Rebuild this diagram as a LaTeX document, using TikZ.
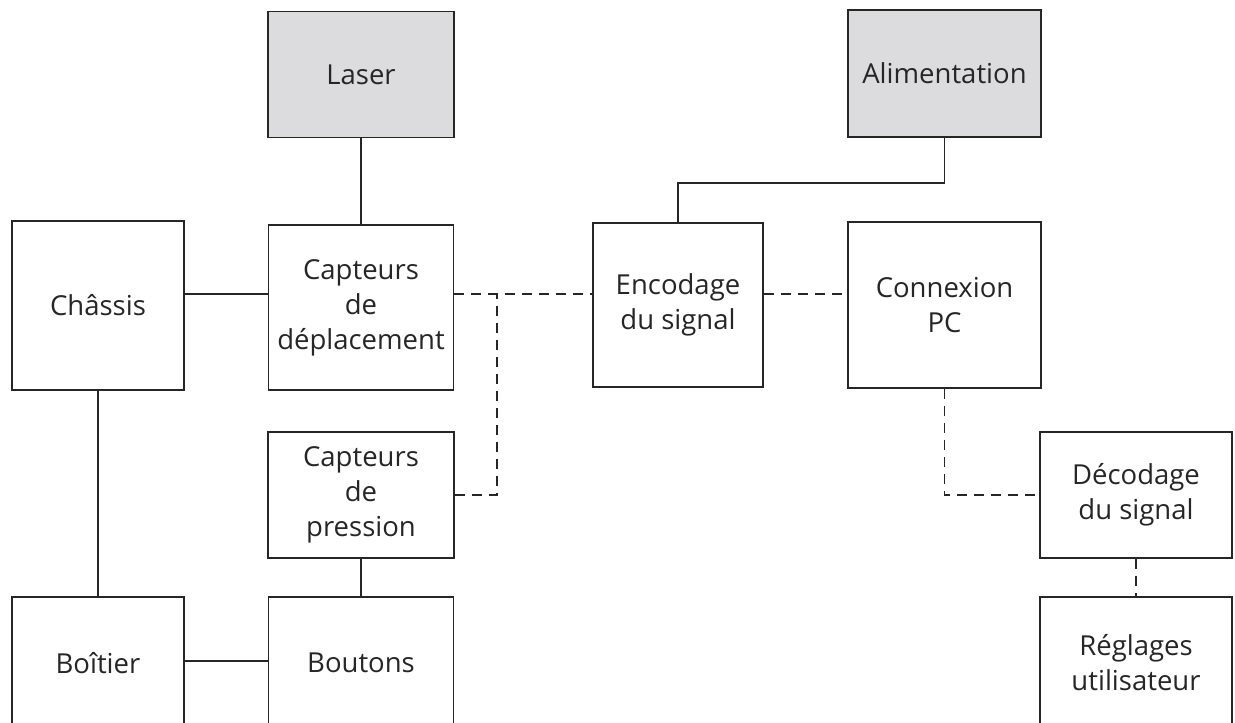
\documentclass[tikz,border=0pt]{standalone}
\usepackage{fontspec}
\setmainfont{Open Sans}
\usetikzlibrary{calc}
\definecolor{ink}{HTML}{262626}
\definecolor{shade}{HTML}{DCDCDE}
\tikzset{
  blk/.style={draw=ink, line width=1.9pt, fill=white, inner sep=0pt,
    align=center, font=\fontsize{27.5}{35}\selectfont, text=ink},
  source/.style={blk, fill=shade},
  link/.style={draw=ink, line width=1.9pt},
  dlink/.style={link, dash pattern=on 10pt off 7pt},
}
\begin{document}
\begin{tikzpicture}[x=1pt,y=-1pt]
  \useasboundingbox (0,0) rectangle (1235,723);
  \clip (0,0) rectangle (1235,723);

  % blocks
  \node[source, minimum width=186pt, minimum height=126pt] (laser) at (361,74.5) {Laser};
  \node[source, minimum width=193pt, minimum height=127pt] (alim) at (944.5,73.5) {Alimentation};
  \node[blk, minimum width=172pt, minimum height=169pt] (chassis) at (98,305.5) {Châssis};
  \node[blk, minimum width=185pt, minimum height=165pt] (cdep) at (361,307.5) {Capteurs\\de\\déplacement};
  \node[blk, minimum width=170pt, minimum height=164pt] (enc) at (678,305) {Encodage\\du signal};
  \node[blk, minimum width=193pt, minimum height=166pt] (conn) at (944.5,305) {Connexion\\PC};
  \node[blk, minimum width=186pt, minimum height=126pt] (cpres) at (361,495) {Capteurs\\de\\pression};
  \node[blk, minimum width=192pt, minimum height=126pt] (dec) at (1136,495) {Décodage\\du signal};
  \node[blk, minimum width=172pt, minimum height=132pt] (boitier) at (98,663) {Boîtier};
  \node[blk, minimum width=185pt, minimum height=132pt] (boutons) at (361,663) {Boutons};
  \node[blk, minimum width=192pt, minimum height=132pt] (reglages) at (1136,663) {Réglages\\utilisateur};

  % routing points
  \coordinate (row) at (0,294);
  \coordinate (split) at (497,294);

  % solid links
  \draw[link] (laser.south) -- (cdep.north);
  \draw[link] (alim.south) -- ++(0,45) -| (enc.north);
  \draw[link] (chassis.east |- row) -- (cdep.west |- row);
  \draw[link] (chassis.south) -- (boitier.north);
  \draw[link] (boitier.east |- 0,661) -- (boutons.west |- 0,661);
  \draw[link] (cpres.south) -- (boutons.north);

  % dashed links
  \draw[dlink] (cdep.east |- row) -- (enc.west |- row);
  \draw[dlink] (cpres.east) -| (split);
  \draw[dlink] (enc.east |- row) -- (conn.west |- row);
  \draw[dlink] (conn.south) |- (dec.west);
  \draw[dlink] (dec.south) -- (reglages.north);
\end{tikzpicture}
\end{document}
